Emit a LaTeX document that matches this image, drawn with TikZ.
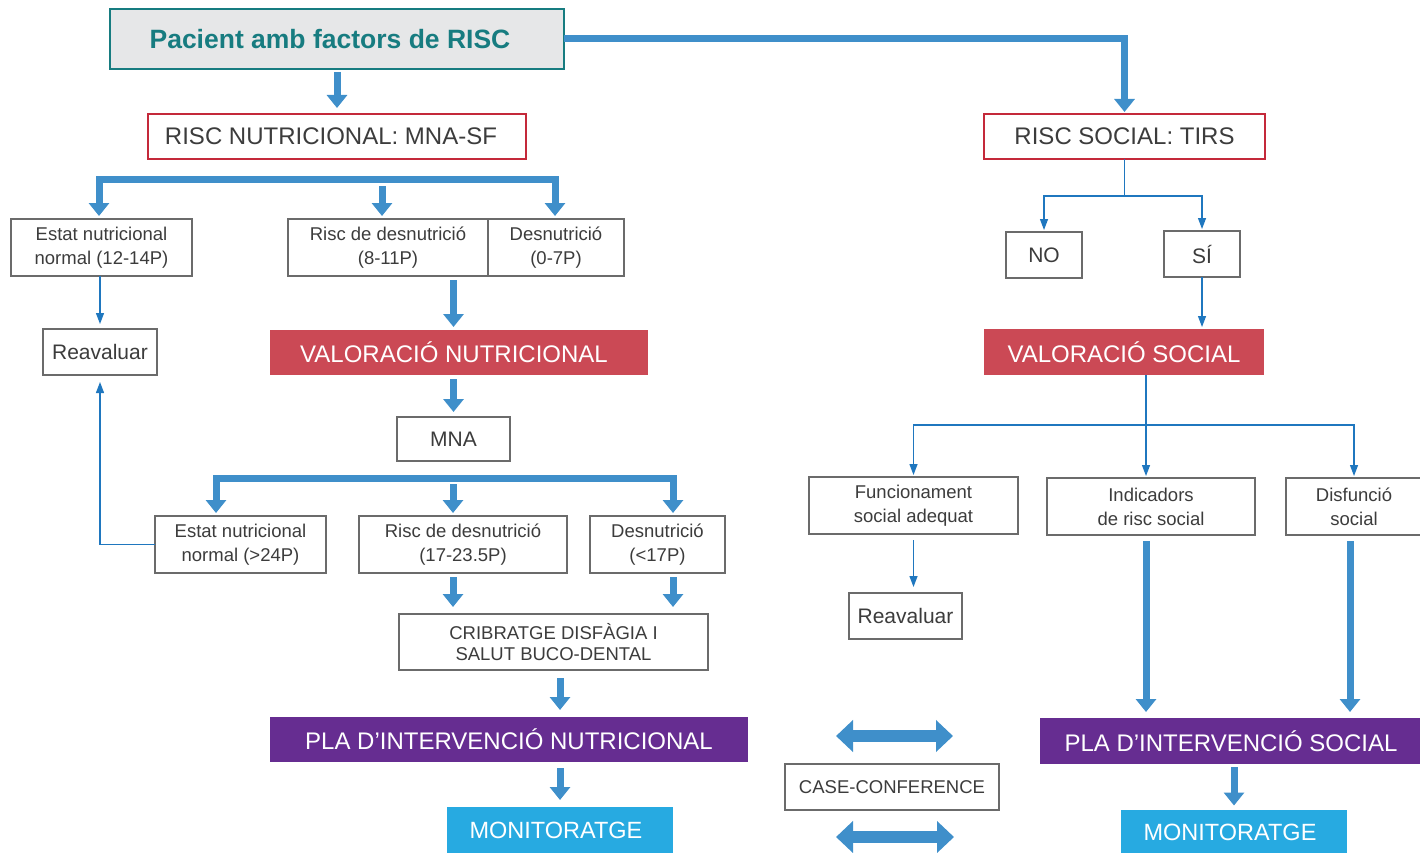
\documentclass[tikz,border=0pt]{standalone}
\usepackage{fontspec}
\setmainfont{Liberation Sans}
\usepackage{xcolor}
\usepackage{tikz}
\usetikzlibrary{arrows.meta}

\definecolor{flowblue}{HTML}{3F8FCA}
\definecolor{linkblue}{HTML}{1F77BF}
\definecolor{riskred}{HTML}{C4293A}
\definecolor{valred}{HTML}{CB4955}
\definecolor{planpurple}{HTML}{662D91}
\definecolor{moncyan}{HTML}{27AAE1}
\definecolor{headteal}{HTML}{177C80}
\definecolor{headgray}{HTML}{E6E7E8}
\definecolor{boxgray}{HTML}{6B6B6B}
\definecolor{txtgray}{HTML}{3C3C3C}

\begin{document}
\begin{tikzpicture}[x=1pt, y=-1pt,
        box/.style={draw=boxgray, line width=1.3pt, fill=white, text=txtgray, align=center, inner sep=0pt, outer sep=0pt, font=\fontsize{18.5}{24}\selectfont},
        midbox/.style={box, font=\fontsize{21}{25}\selectfont},
        riskbox/.style={box, draw=riskred, line width=2.5pt, font=\fontsize{24}{28}\selectfont},
        solidbox/.style={text=white, align=center, inner sep=0pt, outer sep=0pt, font=\fontsize{24}{28}\selectfont},
        fatarrow/.style={draw=flowblue, line width=7pt, -{Triangle[width=20pt,length=13pt]}, shorten <=4pt, shorten >=5pt},
        fatbranch/.style={draw=flowblue, line width=7pt, {Triangle[width=20pt,length=13pt]}-{Triangle[width=20pt,length=13pt]}, shorten <=3pt, shorten >=3pt},
        thinarrow/.style={draw=linkblue, line width=1.3pt, -{Triangle[width=8pt,length=11pt]}, shorten >=2pt},
        thinline/.style={draw=linkblue, line width=1.3pt},
        dblarrow/.style={draw=flowblue, line width=12.5pt, {Triangle[width=31pt,length=17pt]}-{Triangle[width=31pt,length=17pt]}}
    ]
        \useasboundingbox (0,0) rectangle (1420,853);

        \node[box, fill=headgray, draw=headteal, minimum width=454pt, minimum height=60pt, text=headteal, font=\bfseries\fontsize{26.5}{30}\selectfont] (pacient) at (337,39) {Pacient amb factors de RISC\hspace{14pt}};
        \node[riskbox, minimum width=378pt, minimum height=45pt] (rnut) at (337,136.5) {RISC NUTRICIONAL: MNA-SF\hspace{12pt}};
        \node[riskbox, minimum width=281pt, minimum height=45pt] (rsoc) at (1124.5,136.5) {RISC SOCIAL: TIRS};

        \node[box, minimum width=181pt, minimum height=57pt] (estat1) at (101.5,247.5) {Estat nutricional\\normal (12-14P)};
        \node[box, minimum width=200pt, minimum height=57pt] (risc1) at (388,247.5) {Risc de desnutrició\\(8-11P)};
        \node[box, minimum width=136pt, minimum height=57pt] (desn1) at (556,247.5) {Desnutrició\\(0-7P)};
        \node[midbox, minimum width=114pt, minimum height=46pt] (reav1) at (100,352) {Reavaluar};
        \node[solidbox, fill=valred, minimum width=378pt, minimum height=45pt] (valnut) at (459,352.5) {VALORACIÓ NUTRICIONAL\hspace{10pt}};
        \node[midbox, minimum width=113pt, minimum height=44pt] (mna) at (453.5,439) {MNA};

        \node[box, minimum width=171pt, minimum height=57pt] (estat2) at (240.5,544.5) {Estat nutricional\\normal (>24P)};
        \node[box, minimum width=208pt, minimum height=57pt] (risc2) at (463,544.5) {Risc de desnutrició\\(17-23.5P)};
        \node[box, minimum width=135pt, minimum height=57pt] (desn2) at (657.5,544.5) {Desnutrició\\(<17P)};
        \node[box, minimum width=309pt, minimum height=56pt, font=\fontsize{18.5}{21}\selectfont] (cribr) at (553.5,642) {CRIBRATGE DISFÀGIA I\\SALUT BUCO-DENTAL};
        \node[solidbox, fill=planpurple, minimum width=478pt, minimum height=45pt] (planut) at (509,739.5) {PLA D’INTERVENCIÓ NUTRICIONAL};
        \node[solidbox, fill=moncyan, minimum width=226pt, minimum height=46pt, font=\fontsize{23.5}{28}\selectfont] (monnut) at (560,830) {MONITORATGE\hspace{8pt}};

        \node[box, minimum width=214pt, minimum height=46pt] (casec) at (892,787) {CASE-CONFERENCE};

        \node[midbox, minimum width=76pt, minimum height=46pt] (no) at (1044,255) {NO};
        \node[midbox, minimum width=76pt, minimum height=46pt] (si) at (1202,254) {SÍ};
        \node[solidbox, fill=valred, minimum width=280pt, minimum height=46pt] (valsoc) at (1124,352) {VALORACIÓ SOCIAL};
        \node[box, minimum width=209pt, minimum height=57pt] (func) at (913.5,505.5) {Funcionament\\social adequat};
        \node[box, minimum width=208pt, minimum height=57pt] (indic) at (1151,506.5) {Indicadors\\de risc social};
        \node[box, minimum width=136pt, minimum height=57pt] (disf) at (1354,506.5) {Disfunció\\social};
        \node[midbox, minimum width=113pt, minimum height=46pt] (reav2) at (905.5,616) {Reavaluar};
        \node[solidbox, fill=planpurple, minimum width=382pt, minimum height=46pt] (plasoc) at (1231,741) {PLA D’INTERVENCIÓ SOCIAL};
        \node[solidbox, fill=moncyan, minimum width=226pt, minimum height=45pt, font=\fontsize{23.5}{28}\selectfont] (monsoc) at (1234,832) {MONITORATGE\hspace{8pt}};

        \coordinate (bar1l) at (99,180);
        \coordinate (bar1r) at (555,180);
        \coordinate (bar1m) at (382,186);
        \coordinate (bar2l) at (216,478);
        \coordinate (bar2r) at (673,478);
        \coordinate (bar2m) at (453,484);
        \coordinate (split1) at (1124.5,196);
        \coordinate (split2) at (1146,425);
        \coordinate (drop3) at (1350,540);
        \coordinate (cc1l) at (836,736);
        \coordinate (cc1r) at (953,736);
        \coordinate (cc2l) at (836,837);
        \coordinate (cc2r) at (954,837);

        \draw[fatarrow, shorten <=0pt, shorten >=2pt] (pacient.east) -| (rsoc.north);
        \draw[fatarrow, shorten <=3pt, shorten >=6pt] (pacient) -- (rnut);

        \draw[fatbranch] (bar1l |- estat1.north) -- (bar1l) -- (bar1r) -- (bar1r |- desn1.north);
        \draw[fatarrow, shorten <=0pt, shorten >=3pt] (bar1m) -- (bar1m |- risc1.north);
        \draw[fatarrow, shorten >=3pt] (mna.north |- risc1.south) -- (mna.north |- valnut.north);
        \draw[fatarrow] (mna.north |- valnut.south) -- (mna.north);

        \draw[fatbranch] (bar2l |- estat2.north) -- (bar2l) -- (bar2r) -- (bar2r |- desn2.north);
        \draw[fatarrow, shorten <=0pt, shorten >=3pt] (bar2m) -- (bar2m |- risc2.north);
        \draw[fatarrow, shorten >=7pt] (bar2m |- risc2.south) -- (bar2m |- cribr.north);
        \draw[fatarrow, shorten >=7pt] (bar2r |- desn2.south) -- (bar2r |- cribr.north);
        \draw[fatarrow, shorten <=8pt, shorten >=7pt] (monnut.north |- cribr.south) -- (monnut.north |- planut.north);
        \draw[fatarrow, shorten <=6pt, shorten >=7pt] (monnut.north |- planut.south) -- (monnut.north);

        \draw[thinarrow, shorten >=5pt] (reav1.north |- estat1.south) -- (reav1.north);
        \draw[thinarrow, shorten >=7pt] (estat2.west) -| (reav1.south);

        \draw[thinline] (rsoc.south) -- (split1);
        \draw[thinarrow] (split1) -| (no.north);
        \draw[thinarrow] (split1) -| (si.north);
        \draw[thinarrow] (si.south) -- (si.south |- valsoc.north);
        \draw[thinline] (split2 |- valsoc.south) -- (split2);
        \draw[thinarrow] (split2) -| (func.north);
        \draw[thinarrow] (split2) -- (split2 |- indic.north);
        \draw[thinarrow] (split2) -| (disf.north);
        \draw[thinarrow, shorten <=6pt, shorten >=6pt] (func.south) -- (func.south |- reav2.north);
        \draw[fatarrow, shorten <=6pt, shorten >=6pt] (split2 |- indic.south) -- (split2 |- plasoc.north);
        \draw[fatarrow, shorten <=6pt, shorten >=6pt] (drop3 |- disf.south) -- (drop3 |- plasoc.north);
        \draw[fatarrow, shorten <=3pt, shorten >=4pt] (monsoc.north |- plasoc.south) -- (monsoc.north);

        \draw[dblarrow] (cc1l) -- (cc1r);
        \draw[dblarrow] (cc2l) -- (cc2r);
    \end{tikzpicture}
\end{document}
